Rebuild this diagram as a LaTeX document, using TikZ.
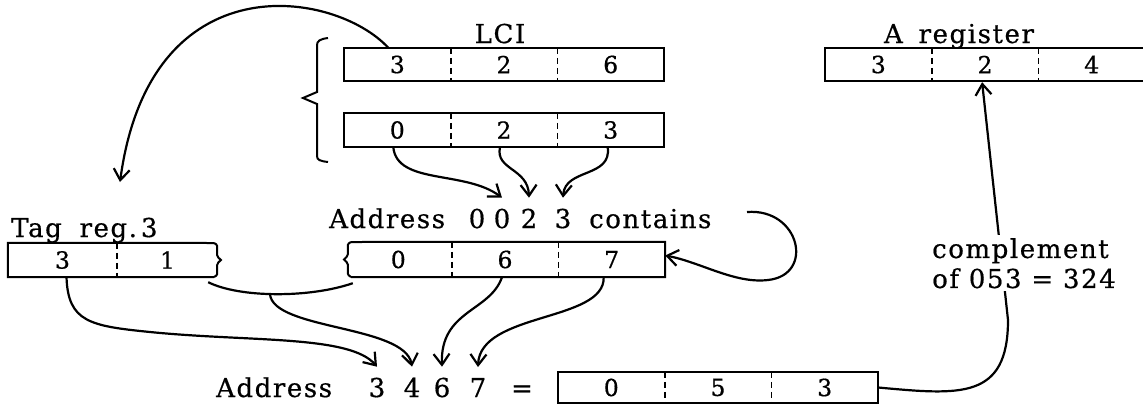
\documentclass[tikz,border=0pt]{standalone}
\usepackage{fontspec}
\setmainfont{DejaVu Serif}
\usetikzlibrary{arrows.meta}
\newcommand\lblfont{\fontsize{26}{30}\selectfont\addfontfeatures{LetterSpace=6,FakeBold=0.6}}
\newcommand\digfont{\fontsize{26}{30}\selectfont\addfontfeatures{FakeBold=0.6}}
\newcommand\celfont{\fontsize{23.5}{26}\selectfont\addfontfeatures{FakeBold=0.6}}
\begin{document}
\begin{tikzpicture}[x=1pt,y=-1pt,
  box/.style={line width=2pt},
  divl/.style={line width=1.8pt, dash pattern=on 6pt off 4pt},
  cell/.style={minimum width=106.67pt, minimum height=33pt, inner sep=0pt, font=\celfont},
  lbl/.style={inner sep=1pt, font=\lblfont},
  dig/.style={inner sep=1pt, font=\digfont, outer sep=10pt},
  conn/.style={line width=2.2pt, -{Straight Barb[length=11pt,width=16pt,line width=2.2pt]}},
  plain/.style={line width=2.2pt}]
\useasboundingbox (0,0) rectangle (1143,408);

% ---------- LCI registers
\node[cell] (L1) at (397.3,64.5) {3};
\node[cell] (L2) at (504,64.5) {2};
\node[cell] (L3) at (610.7,64.5) {6};
\draw[box] (L1.north west) rectangle (L3.south east);
\draw[divl] (L1.north east) -- (L1.south east);
\draw[divl] (L2.north east) -- (L2.south east);

\node[cell, minimum height=34pt] (M1) at (397.3,130) {0};
\node[cell, minimum height=34pt] (M2) at (504,130) {2};
\node[cell, minimum height=34pt] (M3) at (610.7,130) {3};
\draw[box] (M1.north west) rectangle (M3.south east);
\draw[divl] (M1.north east) -- (M1.south east);
\draw[divl] (M2.north east) -- (M2.south east);

\node[lbl, anchor=base] (lci) at (500,43) {LCI};

% brace
\draw[box] (328,38) .. controls (320,39) and (317,41) .. (317,45) -- (317,92) -- (303,98) -- (317,104) -- (317,156) .. controls (317,160) and (320,161) .. (328,162);

% ---------- A register
\node[cell] (R1) at (878.3,64.5) {3};
\node[cell] (R2) at (985,64.5) {2};
\node[cell] (R3) at (1091.7,64.5) {4};
\draw[box] (R3.north east) -- (R1.north west) -- (R1.south west) -- (R3.south east);
\draw[divl] (R1.north east) -- (R1.south east);
\draw[divl] (R2.north east) -- (R2.south east);
\node[lbl, anchor=base] (areg) at (959,43) {A\hspace{6pt} register};

% ---------- Tag register 3
\node[cell, minimum width=109pt, minimum height=34pt] (T1) at (62.5,260) {3};
\node[cell, minimum width=101pt, minimum height=34pt] (T2) at (167.5,260) {1};
\draw[box] (214,243) -- (T1.north west) -- (T1.south west) -- (214,277);
\draw[box] (214,243) .. controls (222,246) and (212,254) .. (221,260) .. controls (212,266) and (222,274) .. (214,277);
\draw[divl] (T1.north east) -- (T1.south east);
\node[lbl, anchor=base west] (tag) at (10,237) {Tag\hspace{8pt} reg.\hspace{4pt}3};

% ---------- Address 0023 contents
\node[cell, minimum height=35pt] (C1) at (398.3,259.5) {0};
\node[cell, minimum height=35pt] (C2) at (505,259.5) {6};
\node[cell, minimum height=35pt] (C3) at (611.7,259.5) {7};
\draw[box] (351,242) -- (C3.north east) -- (C3.south east) -- (351,277);
\draw[box] (351,242) .. controls (343,245) and (353,253) .. (344,259.5) .. controls (353,266) and (343,273) .. (351,277);
\draw[divl] (C1.north east) -- (C1.south east);
\draw[divl] (C2.north east) -- (C2.south east);

\node[lbl, anchor=base west] (adr1) at (328,228) {Address};
\node[dig, anchor=base] (u1) at (477,228) {0};
\node[dig, anchor=base] (u2) at (502,228) {0};
\node[dig, anchor=base] (u3) at (529,228) {2};
\node[dig, anchor=base] (u4) at (563,228) {3};
\node[lbl, anchor=base west] (cont) at (588,228) {contains};

% ---------- bottom result
\node[cell, minimum height=31pt] (B1) at (611.3,387.5) {0};
\node[cell, minimum height=31pt] (B2) at (718,387.5) {5};
\node[cell, minimum height=31pt] (B3) at (824.7,387.5) {3};
\draw[box] (B1.north west) rectangle (B3.south east);
\draw[divl] (B1.north east) -- (B1.south east);
\draw[divl] (B2.north east) -- (B2.south east);

\node[lbl, anchor=base west] (adr2) at (215,397) {Address};
\node[dig, anchor=base] (v3) at (377,397) {3};
\node[dig, anchor=base] (v4) at (412,397) {4};
\node[dig, anchor=base] (v6) at (442,397) {6};
\node[dig, anchor=base] (v7) at (478,397) {7};
\node[dig, anchor=base] (eq) at (522,397) {=};

% ---------- connectors
\coordinate (arcend) at (120,182);
\draw[conn] ([xshift=-9pt]L1.north) .. controls (335,-10) and (150,-40) .. (arcend);

\draw[conn] ([xshift=-4pt]M1.south) .. controls (397,185) and (465,170) .. (u2.north);
\draw[conn] ([xshift=-4pt]M2.south) .. controls (495,170) and (528,168) .. (u3.north);
\draw[conn] ([xshift=-3pt]M3.south) .. controls (612,178) and (565,168) .. (u4.north);

\coordinate (loopst) at (747,212);
\draw[conn] (loopst) .. controls (800,208) and (815,275) .. (768,280) .. controls (735,284) and (700,262) .. ([yshift=4pt]C3.east);

\draw[plain] ([xshift=-10pt,yshift=-5pt]T2.south east) .. controls (240,298) and (310,298) .. coordinate[pos=0.46] (sag) ([xshift=8pt,yshift=-6pt]C1.south west);
\draw[conn] (sag) .. controls (273,330) and (405,325) .. (v4.north);

\draw[conn] ([xshift=4pt]T1.south) .. controls (68,322) and (90,326) .. (150,332) .. controls (250,342) and (350,335) .. (v3.north);

\draw[conn] ([xshift=-3pt]C2.south) .. controls (490,312) and (440,310) .. (v6.north);
\draw[conn] ([xshift=-8pt]C3.south) .. controls (605,322) and (480,312) .. (v7.north);

\draw[conn, shorten >=1pt] (B3.east) .. controls (960,395) and (1008,400) .. (1008,320) -- ([xshift=-3pt]R2.south);

\node[lbl, fill=white, inner sep=3pt, align=left, anchor=north west] (cmp) at (929,235) {complement\\of 053 = 324};
\end{tikzpicture}
\end{document}
